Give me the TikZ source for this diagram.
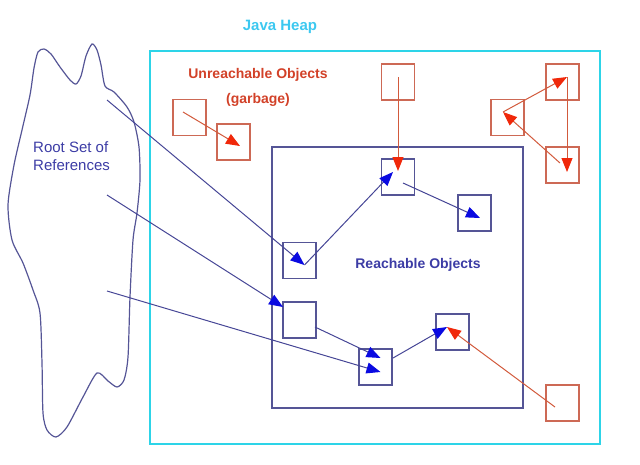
\documentclass[tikz,border=0pt]{standalone}
\usepackage{fontspec}
\setmainfont{Liberation Sans}
\usetikzlibrary{arrows.meta}
\definecolor{heapcyan}{RGB}{45,212,232}
\definecolor{heaptext}{RGB}{60,200,240}
\definecolor{redbox}{RGB}{205,105,85}
\definecolor{redtext}{RGB}{210,65,40}
\definecolor{redline}{RGB}{210,90,60}
\definecolor{redhead}{RGB}{240,40,10}
\definecolor{bluebox}{RGB}{85,85,150}
\definecolor{blueline}{RGB}{70,70,150}
\definecolor{bluehead}{RGB}{10,10,225}
\definecolor{bluetext}{RGB}{60,60,165}
\tikzset{
  obj/.style={draw, line width=1.1pt, minimum width=33pt, minimum height=36pt, inner sep=0pt},
  garb/.style={obj, draw=redbox},
  live/.style={obj, draw=bluebox},
  redarrow/.style={draw=redline, line width=1pt, -{Triangle[length=14pt, width=11pt, color=redhead]}},
  bluearrow/.style={draw=blueline, line width=1pt, -{Triangle[length=14pt, width=11pt, color=bluehead]}},
  lbl/.style={font=\fontsize{14}{16}\selectfont\bfseries, inner sep=0pt}
}
\begin{document}
\begin{tikzpicture}[x=1pt, y=-1pt]
\useasboundingbox (0,0) rectangle (640,464);
% Java heap
\draw[heapcyan, line width=2.4pt] (150,51) rectangle (600,444);
\node[lbl, text=heaptext, font=\fontsize{15}{17}\selectfont\bfseries] (heaplbl) at (280,27) {Java Heap};
% reachable region
\draw[bluebox, line width=1.5pt] (272,147) rectangle (523,408);
\node[lbl, text=bluetext] (reachlbl) at (418,265) {Reachable Objects};
\node[lbl, text=redtext, align=center, font=\fontsize{14}{25}\selectfont\bfseries] (unreachlbl) at (258,87) {Unreachable Objects\\(garbage)};
% root set blob
\draw[bluebox, line width=1.2pt] plot[smooth cycle, tension=0.45] coordinates {
 (38,52) (44,49) (51,54) (60,67) (70,80) (76,84) (81,76) (86,56) (92,44) (97,50) (101,65) (105,86)
 (114,92) (127,107) (134,122) (139,147) (140,180) (137,213) (133,240) (130,297)
 (128,357) (124,380) (117,387) (108,381) (97,373) (83,397) (67,427) (56,437)
 (47,430) (43,413) (42,363) (40,313) (33,290) (23,263) (12,240) (8,205) (14,165)
 (22,130) (30,95) (34,68)};
\node[inner sep=0pt, text=bluetext, align=left, anchor=west, font=\fontsize{15}{18.5}\selectfont] (rootlbl) at (33,156) {Root Set of\\References};
\coordinate (r1) at (107,100);
\coordinate (r2) at (107,195);
\coordinate (r3) at (107,291);
% unreachable objects
\node[garb] (U1) at (189.5,117.5) {};
\node[garb] (U2) at (233.5,142) {};
\node[garb] (U3) at (398,82) {};
\node[garb] (U4) at (562.5,82) {};
\node[garb] (U5) at (507.5,117.5) {};
\node[garb] (U6) at (562.5,165) {};
\node[garb] (U7) at (562.5,403) {};
% reachable objects
\node[live] (R1) at (398,177) {};
\node[live] (R2) at (474.5,213) {};
\node[live] (R3) at (299.5,260.5) {};
\node[live] (R4) at (299.5,320) {};
\node[live] (R5) at (375.5,367) {};
\node[live] (R6) at (452.5,332) {};
% red references
\draw[redarrow] ([shift={(-6.5,-5.5)}]U1.center) -- ([shift={(6.5,4)}]U2.center);
\draw[redarrow] ([shift={(0,-5)}]U3.center) -- ([shift={(0,-6)}]R1.center);
\draw[redarrow] ([shift={(4.5,-5)}]U4.center) -- ([shift={(4.5,7)}]U6.center);
\draw[redarrow] ([shift={(-2.5,-2)}]U6.center) -- ([shift={(-4.5,-5.5)}]U5.center);
\draw[redarrow] ([shift={(-4.5,-5.5)}]U5.center) -- ([shift={(4.5,-5)}]U4.center);
\draw[redarrow] ([shift={(-7.5,4)}]U7.center) -- ([shift={(-5.5,-5)}]R6.center);
% blue references
\draw[bluearrow] (r1) -- ([shift={(5,4.5)}]R3.center);
\draw[bluearrow] (r2) -- ([shift={(-16.5,-13)}]R4.center);
\draw[bluearrow] (r3) -- ([shift={(5,5)}]R5.center);
\draw[bluearrow] ([shift={(15.5,7)}]R4.center) -- ([shift={(5,-9)}]R5.center);
\draw[bluearrow] ([shift={(17.5,-9)}]R5.center) -- ([shift={(-5.5,-5)}]R6.center);
\draw[bluearrow] ([shift={(5,4.5)}]R3.center) -- ([shift={(-5,-5)}]R1.center);
\draw[bluearrow] ([shift={(5,6)}]R1.center) -- ([shift={(5.5,5)}]R2.center);
\end{tikzpicture}
\end{document}
